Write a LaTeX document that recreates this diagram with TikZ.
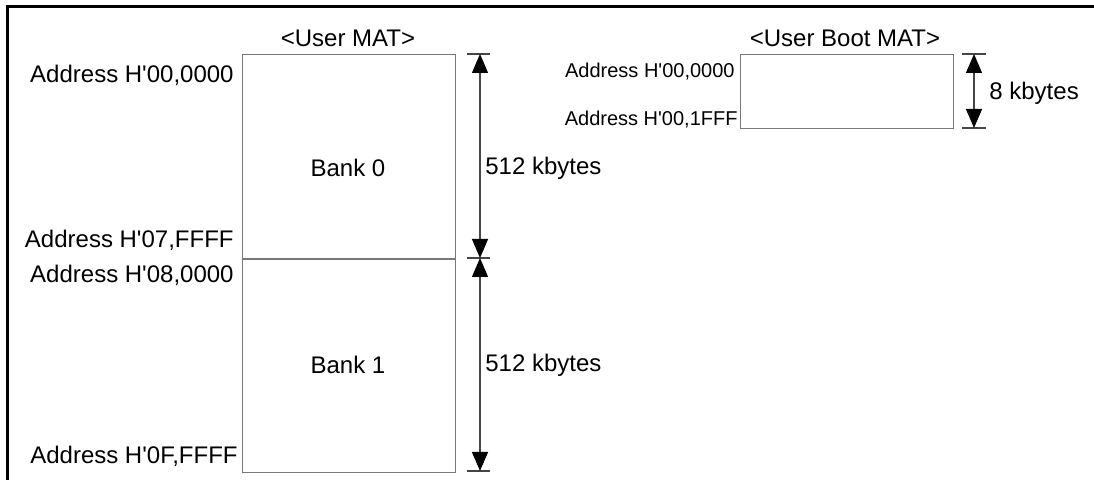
\documentclass[tikz,border=0pt]{standalone}
\usepackage{fontspec}
\setmainfont{Liberation Sans}
\usetikzlibrary{positioning,arrows.meta}
\definecolor{matline}{RGB}{120,120,120}
\definecolor{dimline}{RGB}{70,70,70}
\newcommand{\q}{\textquotesingle}
\tikzset{
 matbox/.style={draw=matline, line width=0.6pt, minimum width=106.5pt,
        inner sep=0pt},
 lbl/.style={inner sep=0pt, font=\fontsize{12}{14}\selectfont},
 addr/.style={lbl, anchor=east},
 addr small/.style={addr, font=\fontsize{10}{12}\selectfont},
 dimtick/.style={draw=dimline, line width=0.6pt},
 dimarrow/.style={draw=dimline, line width=0.6pt,
        {Triangle[width=8pt,length=9.5pt,color=black]}-{Triangle[width=8pt,length=9.5pt,color=black]}},
}
\begin{document}
\begin{tikzpicture}[x=0.5pt, y=-0.5pt]
\useasboundingbox (0,0) rectangle (1094,480);
% frame (only top and left edges are in view)
\draw[line width=1.5pt] (7,480) -- (7,7) -- (1094,7);
% User MAT: two banks stacked
\node[matbox, minimum height=102pt, anchor=north west] (bank0) at (242,54) {};
\node[matbox, minimum height=106.5pt, below=0pt of bank0] (bank1) {};
\node[lbl] (umat) at (348,38) {<User MAT>};
\node[lbl] at (348,168) {Bank 0};
\node[lbl] at (348,365) {Bank 1};
\node[addr] (a0) at (234,75) {Address H\q00,0000};
\node[addr] (a1) at (234,240) {Address H\q07,FFFF};
\node[addr] (a2) at (234,275) {Address H\q08,0000};
\node[addr] (a3) at (238,456) {Address H\q0F,FFFF};
% size arrows for the banks
\coordinate (t0) at (480,54);
\coordinate (t1) at (480,258);
\coordinate (t2) at (480,471);
\foreach \t in {t0,t1,t2}
 \draw[dimtick] ([xshift=-6.5pt]\t) -- ([xshift=5pt]\t);
\draw[dimarrow] (t0) -- (t1);
\draw[dimarrow] (t1) -- (t2);
\node[lbl, anchor=west] (s0) at (485,168) {512 kbytes};
\node[lbl, anchor=west] (s1) at (485,365) {512 kbytes};
% User Boot MAT
\node[matbox, minimum height=37pt, anchor=north west] (boot) at (740,54) {};
\node[lbl] (bmat) at (845,38) {<User Boot MAT>};
\node[addr small] (b0) at (735,72) {Address H\q00,0000};
\node[addr small] (b1) at (738,120) {Address H\q00,1FFF};
\coordinate (u0) at (974,54);
\coordinate (u1) at (974,128);
\foreach \t in {u0,u1}
 \draw[dimtick] ([xshift=-6pt]\t) -- ([xshift=6pt]\t);
\draw[dimarrow] (u0) -- (u1);
\node[lbl, anchor=west] (s2) at (989,93) {8 kbytes};
\end{tikzpicture}
\end{document}
